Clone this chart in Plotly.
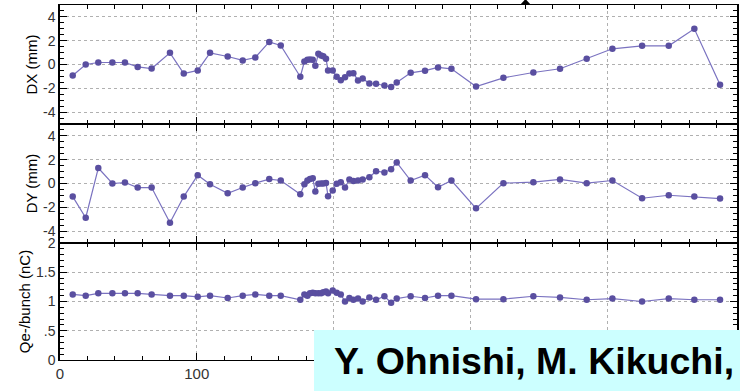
import plotly.graph_objects as go

# ---- data ----
position = [9.3, 18.8, 28.0, 38.3, 47.5, 56.8, 67.0, 80.4, 90.5, 100.7,
            109.7, 122.6, 133.6, 142.8, 153.0, 161.4, 175.7, 178.7, 180.9, 182.8,
            184.8, 186.7, 188.9, 190.9, 192.5, 194.5, 196.0, 199.4, 202.3, 205.3,
            208.4, 211.6, 214.5, 217.9, 221.3, 226.2, 231.1, 237.2, 242.1, 246.2,
            256.4, 266.9, 276.4, 286.2, 304.2, 324.2, 346.1, 365.6, 385.1, 403.9,
            425.6, 445.1, 463.8, 482.6]

dx_mm = [-0.92, 0.0, 0.17, 0.17, 0.17, -0.2, -0.34, 0.98, -0.76, -0.5,
         0.98, 0.67, 0.34, 0.59, 1.9, 1.6, -1.03, 0.25, 0.39, 0.42,
         0.39, -0.11, 0.9, 0.76, 0.7, 0.48, -0.5, -0.5, -1.03, -1.32,
         -1.07, -0.76, -0.73, -1.34, -1.18, -1.6, -1.62, -1.76, -1.9, -1.51,
         -0.7, -0.52, -0.25, -0.36, -1.85, -1.12, -0.67, -0.36, 0.48, 1.32,
         1.57, 1.57, 3.0, -1.71]

dy_mm = [-1.1, -2.88, 1.3, 0.0, 0.08, -0.34, -0.34, -3.3, -1.1, 0.7,
         -0.06, -0.82, -0.34, 0.03, 0.37, 0.25, -0.9, -0.06, 0.25, 0.37,
         0.45, -0.68, -0.03, 0.0, 0.0, 0.05, -1.08, -0.59, -0.03, 0.11,
         -0.34, 0.34, 0.2, 0.25, 0.34, 0.53, 1.03, 0.93, 1.2, 1.77,
         0.25, 0.7, -0.31, 0.25, -2.09, 0.03, 0.11, 0.34, 0.03, 0.25,
         -1.24, -0.99, -1.1, -1.27]

q_nc = [1.12, 1.10, 1.14, 1.14, 1.14, 1.14, 1.12, 1.10, 1.10, 1.08,
        1.10, 1.06, 1.10, 1.12, 1.10, 1.10, 1.03, 1.12, 1.10, 1.14,
        1.15, 1.14, 1.14, 1.14, 1.16, 1.17, 1.14, 1.19, 1.15, 1.12,
        1.00, 1.06, 1.03, 1.05, 1.00, 1.07, 1.03, 1.09, 0.98, 1.05,
        1.09, 1.06, 1.10, 1.10, 1.04, 1.04, 1.09, 1.07, 1.03, 1.05,
        1.00, 1.05, 1.03, 1.03]

x_ticks = [0, 100, 200, 300, 400]
# labels 200-400 are hidden behind the author box in the reference
x_ticktext = ["0", "100", "", "", ""]
dxy_ticks = [-4, -2, 0, 2, 4]
dxy_ticktext = ["-4", "-2", "0", "2", "4"]
q_ticks = [0, 0.5, 1, 1.5, 2]
q_ticktext = ["0", ".5", "1", "1.5", "2"]

author_text = "Y. Ohnishi, M. Kikuchi,"

# ---- styling ----
LINE_COL = "#7a72c0"
MARK_COL = "#5a4fa0"
FONT = "Liberation Sans, Arial, sans-serif"

fig = go.Figure()

def add_series(y, xa, ya):
    fig.add_trace(go.Scatter(
        x=position, y=y, mode="lines+markers", xaxis=xa, yaxis=ya,
        line=dict(color=LINE_COL, width=1.2),
        marker=dict(color=MARK_COL, size=6.5),
        showlegend=False, hoverinfo="skip"))

add_series(dx_mm, "x3", "y3")
add_series(dy_mm, "x2", "y2")
add_series(q_nc, "x", "y")

d_bot = [0, 0.3296]
d_mid = [0.3296, 0.6648]
d_top = [0.6648, 1.0]

def xax(anchor, labels):
    return dict(
        domain=[0, 1], anchor=anchor, range=[0, 495], automargin=False,
        tickmode="array", tickvals=x_ticks, ticktext=x_ticktext,
        showticklabels=labels, ticks="inside", ticklen=7, tickwidth=1.3,
        tickcolor="black",
        minor=dict(ticks="inside", dtick=20, tick0=0, ticklen=4,
                   tickwidth=1, tickcolor="black", showgrid=False),
        showline=True, linecolor="black", linewidth=1.1, mirror="ticks",
        showgrid=True, gridcolor="#b0b0b0", griddash="dot", gridwidth=1,
        zeroline=False,
        tickfont=dict(family=FONT, size=15, color="#333333"),
    )

def yax(domain, rng, tv, tt, minor_dtick, title, anchor):
    return dict(
        domain=domain, anchor=anchor, range=rng, automargin=False,
        tickmode="array", tickvals=tv, ticktext=tt,
        ticks="inside", ticklen=7, tickwidth=1.3, tickcolor="black",
        minor=dict(ticks="inside", dtick=minor_dtick, ticklen=4,
                   tickwidth=1, tickcolor="black", showgrid=False),
        showline=True, linecolor="black", linewidth=1.5, mirror="ticks",
        showgrid=True, gridcolor="#b0b0b0", griddash="dot", gridwidth=1,
        zeroline=False,
        tickfont=dict(family=FONT, size=14, color="#333333"),
        title=dict(text=title, font=dict(family=FONT, size=15, color="black"),
                   standoff=2),
    )

fig.update_layout(
    width=740, height=391,
    margin=dict(l=60, r=3, t=5, b=31, pad=0, autoexpand=False),
    paper_bgcolor="white", plot_bgcolor="white",
    xaxis=xax("y", True),
    xaxis2=dict(xax("y2", False), matches="x"),
    xaxis3=dict(xax("y3", False), matches="x"),
    yaxis=yax(d_bot, [0, 2], q_ticks, q_ticktext, 0.1, "Qe-/bunch (nC)", "x"),
    yaxis2=yax(d_mid, [-5, 5], dxy_ticks, dxy_ticktext, 0.5, "DY (mm)", "x2"),
    yaxis3=yax(d_top, [-5, 5], dxy_ticks, dxy_ticktext, 0.5, "DX (mm)", "x3"),
)

# cyan author box
fig.add_shape(type="rect", xref="paper", yref="paper",
              x0=(314 - 60) / 677, x1=(742 - 60) / 677,
              y0=(360 - 392) / 355, y1=(360 - 330) / 355,
              fillcolor="#ccffff", line=dict(width=0), layer="above")
fig.add_annotation(text="<b>" + author_text + "</b>", xref="paper", yref="paper",
                   x=(332 - 60) / 677, y=(360 - 361) / 355,
                   xanchor="left", yanchor="middle", showarrow=False,
                   font=dict(family=FONT, size=37.5, color="black"))

# fragment of cut-off glyph at top edge
fig.add_shape(type="path", xref="paper", yref="paper",
              path="M {a},{b} L {c},{b} L {m},{t} Z".format(
                  a=(520 - 60) / 677, c=(531 - 60) / 677, m=(525.5 - 60) / 677,
                  b=(360 - 5) / 355, t=(360 + 1) / 355),
              fillcolor="black", line=dict(width=0), layer="above")

fig.write_html("out.html",
               config={"displayModeBar": False},
               post_script="document.body.style.margin='0px';"
                           "document.body.style.padding='0px';"
                           "document.body.style.overflow='hidden';")
